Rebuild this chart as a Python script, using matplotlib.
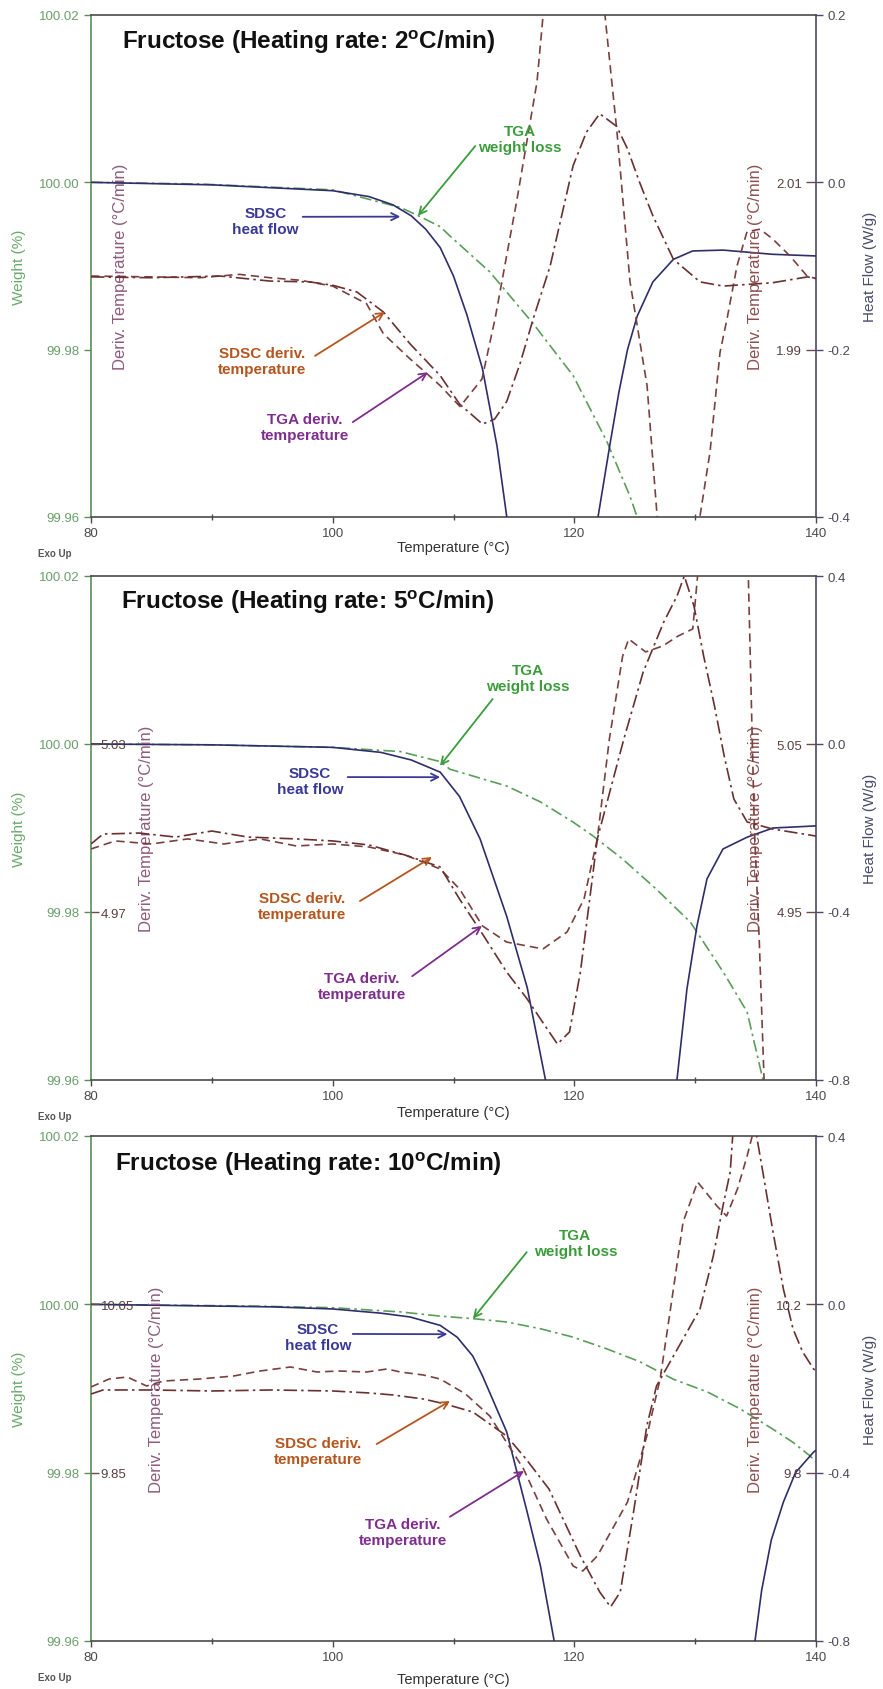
import matplotlib
matplotlib.use('Agg')
import matplotlib.pyplot as plt

plt.rcParams['font.family'] = ['Liberation Sans', 'DejaVu Sans']
plt.rcParams['mathtext.fontset'] = 'custom'
plt.rcParams['mathtext.rm'] = 'Liberation Sans'
plt.rcParams['mathtext.bf'] = 'Liberation Sans:bold'
plt.rcParams['axes.unicode_minus'] = False

# ---------------- data ----------------
rates = [2, 5, 10]

# panel 1 : 2 C/min
p1_wt_T = [80, 89, 100, 105.6, 107.1, 108.9, 109.7, 113.0, 116.6, 119.9, 122.7, 124.6, 125.2, 126.0]
p1_wt = [100.0000, 99.9998, 99.9991, 99.9970, 99.9960, 99.9947, 99.9936, 99.9893, 99.9831,
         99.9769, 99.9690, 99.9625, 99.9600, 99.9574]
p1_hf_T = [80, 90, 100, 103, 105, 106.5, 107.7, 108.9, 110, 111.1, 112.4, 113.6, 114.4, 116, 118, 120,
           121.96, 122.95, 123.7, 124.4, 125.2, 126.5, 128.2, 129.8, 132.3, 136.4, 140]
p1_hf = [0.0, -0.003, -0.010, -0.017, -0.027, -0.040, -0.056, -0.078, -0.112, -0.158, -0.223, -0.315,
         -0.399, -0.6, -0.9, -0.7, -0.400, -0.313, -0.250, -0.200, -0.160, -0.119, -0.092, -0.082,
         -0.081, -0.086, -0.088]
p1_tga_T = [80, 84.9, 89.0, 92.3, 94.8, 97.3, 100.0, 102.0, 102.8, 104.2, 106.4, 107.9, 108.9, 110.54,
            112.36, 113.44, 115.26, 116.91, 117.41, 118.5, 120.0, 121.5, 122.54, 123.53, 124.61,
            126.02, 126.85, 128.6, 130.40, 131.23, 132.06, 132.64, 133.46, 134.29, 135.37, 136.44,
            137.85, 139.26, 140]
p1_tga = [1.9988, 1.9987, 1.9986, 1.9990, 1.9986, 1.9983, 1.9976, 1.9961, 1.9955, 1.9919, 1.9889,
          1.9870, 1.9857, 1.9832, 1.9865, 1.9937, 2.0080, 2.0220, 2.0299, 2.0391, 2.0439, 2.0391,
          2.0299, 2.0160, 1.9981, 1.9857, 1.9701, 1.9626, 1.9701, 1.9778, 1.9897, 1.9937, 2.0000,
          2.0041, 2.0044, 2.0032, 2.0012, 1.9988, 1.9985]
p1_sdsc_T = [80, 84.9, 90.7, 94.8, 98.1, 100.0, 102.0, 104.2, 106.4, 108.9, 110.5, 112.4, 113.4,
             114.4, 115.5, 116.6, 118.0, 119.9, 121.0, 122.1, 123.5, 124.4, 125.4, 126.5, 128.2,
             130.4, 132.3, 136.4, 139.3, 140]
p1_sdsc = [1.9987, 1.9986, 1.9988, 1.9982, 1.9981, 1.9977, 1.9969, 1.9945, 1.9907, 1.9869, 1.9835,
           1.9811, 1.9817, 1.9838, 1.9883, 1.9937, 2.0000, 2.0120, 2.0160, 2.0182, 2.0167, 2.0140,
           2.0100, 2.0060, 2.0008, 1.9981, 1.9976, 1.9980, 1.9987, 1.9985]

# panel 2 : 5 C/min
p2_wt_T = [80, 90, 100, 105.6, 108.9, 109.7, 114.4, 117.2, 119.9, 121.5, 124.0, 126.8, 129.6, 132.3,
           134.3, 135.6, 136.2]
p2_wt = [100.0000, 99.9999, 99.9996, 99.9991, 99.9979, 99.9970, 99.9950, 99.9931, 99.9907, 99.9891,
         99.9863, 99.9827, 99.9788, 99.9729, 99.9681, 99.9601, 99.9577]
p2_hf_T = [80, 90, 100, 104, 106.5, 108.9, 110.5, 112.2, 114.4, 116.1, 117.6, 120, 125, 128.50,
           129.32, 130.15, 130.98, 132.30, 134.29, 136.44, 140]
p2_hf = [0.0, -0.002, -0.008, -0.020, -0.038, -0.067, -0.125, -0.226, -0.410, -0.580, -0.798, -1.2,
         -1.2, -0.798, -0.583, -0.433, -0.321, -0.250, -0.222, -0.200, -0.195]
p2_tga_T = [80, 82, 85, 88, 91, 94, 97, 100, 103, 106, 108.9, 110.5, 112.4, 114.4, 117.4, 119.4, 120.8,
            121.9, 122.9, 124.0, 124.5, 125.9, 127.3, 128.6, 129.8, 130.2, 131.0, 134.0, 134.4,
            134.9, 135.3, 135.7, 136.0]
p2_tga = [4.9875, 4.9923, 4.9905, 4.9935, 4.9905, 4.9935, 4.9893, 4.9905, 4.9887, 4.9839, 4.9756,
          4.9637, 4.9417, 4.9321, 4.9280, 4.9381, 4.9577, 4.9935, 5.0530, 5.1024, 5.1125, 5.1048,
          5.1083, 5.1143, 5.1185, 5.1500, 5.1839, 5.1839, 5.1500, 4.9994, 4.9339, 4.8506, 4.8089]
p2_sdsc_T = [80, 81, 84, 87, 90, 93, 97, 100, 103, 106, 108.9, 110.5, 112.4, 114.4, 116.1, 117.2, 118.6,
             119.6, 120.5, 121.2, 121.9, 124.1, 125.7, 127.4, 128.5, 129.1, 129.9, 130.7, 131.6,
             132.4, 133.2, 134.3, 136.4, 140]
p2_sdsc = [4.9905, 4.9964, 4.9970, 4.9946, 4.9982, 4.9946, 4.9935, 4.9923, 4.9899, 4.9839, 4.9768,
           4.9577, 4.9369, 4.9143, 4.8982, 4.8863, 4.8714, 4.8786, 4.9143, 4.9536, 4.9935, 5.0530,
           5.0929, 5.1226, 5.1381, 5.1500, 5.1321, 5.1024, 5.0726, 5.0429, 5.0173, 5.0036, 4.9994,
           4.9952]

# panel 3 : 10 C/min
p3_wt_T = [80, 93.2, 100, 105.6, 108.9, 111.6, 114.4, 117.2, 119.9, 122.7, 125.4, 128.2, 131.0, 133.7,
           136.4, 138.1, 139.5, 140]
p3_wt = [100.0000, 99.9998, 99.9996, 99.9991, 99.9986, 99.9983, 99.9979, 99.9971, 99.9961, 99.9947,
         99.9932, 99.9911, 99.9896, 99.9876, 99.9852, 99.9836, 99.9820, 99.9813]
p3_hf_T = [80, 95, 100, 104, 106.4, 108.9, 110.3, 111.6, 112.4, 114.4, 116.1, 117.2, 118.3, 120, 130,
           134.95, 135.5, 136.3, 137.3, 138.3, 139.8, 140]
p3_hf = [0.0, -0.006, -0.011, -0.021, -0.030, -0.050, -0.078, -0.123, -0.170, -0.303, -0.494, -0.622,
         -0.795, -1.2, -1.2, -0.80, -0.68, -0.56, -0.47, -0.40, -0.351, -0.347]
p3_tga_T = [80, 81.5, 83, 84.6, 86, 89, 91.8, 94, 96.5, 98.7, 100.5, 102.8, 104.5, 105.6, 107.5, 108.9,
            111, 113, 115.8, 117.7, 119.9, 120.7, 121.9, 124.4, 126.0, 127.1, 128.2, 129.0, 130.2,
            131.8, 132.6, 133.5, 134.3, 134.7, 135.5, 140]
p3_tga = [10.0036, 10.0226, 10.0273, 10.0060, 10.0178, 10.0226, 10.0297, 10.0416, 10.0511, 10.0392,
          10.0416, 10.0392, 10.0464, 10.0392, 10.0321, 10.0226, 9.9869, 9.9347, 9.8087, 9.6899,
          9.5782, 9.5664, 9.6020, 9.7303, 9.8871, 10.0226, 10.2364, 10.3957, 10.4907, 10.4337,
          10.4099, 10.4741, 10.5525, 10.5976, 10.7354, 10.8067]
p3_sdsc_T = [80, 81, 85, 90, 95, 100, 103, 105, 107.5, 109.3, 111.6, 114.4, 116, 117.9, 120.5, 122.1,
             123.0, 123.8, 124.9, 126.0, 126.8, 128.2, 130.4, 131.5, 132.3, 132.9, 133.1, 134.1,
             135.1, 135.6, 136.4, 137.3, 138.1, 138.9, 139.8, 140]
p3_sdsc = [9.9869, 9.9965, 9.9965, 9.9941, 9.9965, 9.9941, 9.9894, 9.9846, 9.9751, 9.9632, 9.9442,
           9.8871, 9.8325, 9.7612, 9.6020, 9.5165, 9.4808, 9.5165, 9.7066, 9.9109, 10.0060, 10.0772,
           10.1889, 10.3149, 10.4337, 10.5145, 10.5976, 10.7830, 10.5976, 10.5145, 10.3790, 10.2364,
           10.1414, 10.0867, 10.0464, 10.0416]

# axis ranges and ticks
wt_ticks = [99.96, 99.98, 100.00, 100.02]
hf_lims = [(-0.4, 0.2), (-0.8, 0.4), (-0.8, 0.4)]
hf_ticks = [[-0.4, -0.2, 0.0, 0.2], [-0.8, -0.4, 0.0, 0.4], [-0.8, -0.4, 0.0, 0.4]]
dl_lims = [(1.94, 2.06), (4.91, 5.09), (9.65, 10.25)]
dl_ticks = [[], [4.97, 5.03], [9.85, 10.05]]
dl_labels = [[], ['4.97', '5.03'], ['9.85', '10.05']]
dr_lims = [(1.97, 2.03), (4.85, 5.15), (9.4, 10.6)]
dr_ticks = [[1.99, 2.01], [4.95, 5.05], [9.8, 10.2]]
dr_labels = [['1.99', '2.01'], ['4.95', '5.05'], ['9.8', '10.2']]

# arrow tips on the curves (T, value on that curve's axis)
tips_wt = [(107.06, 99.9960), (108.88, 99.9974), (111.61, 99.9983)]
tips_hf = [(105.6, -0.041), (108.9, -0.079), (109.5, -0.071)]
tips_sdsc = [(104.33, 1.9945), (108.22, 4.9827), (109.71, 9.9703)]
tips_tga = [(107.89, 1.9873), (112.36, 4.9417), (115.84, 9.8040)]

# ---------------- style ----------------
C_WT = '#5a9e5a'
C_HF = '#2e2e6a'
C_TGA = '#7a4040'
C_SDSC = '#6a3030'
C_WT_TXT = '#3c9c3c'
C_HF_TXT = '#3a3a96'
C_SDSC_TXT = '#b4561e'
C_TGA_TXT = '#7e2e8c'
C_AX = '#4a4a4a'

W, H = 883, 1690
fig = plt.figure(figsize=(W / 100, H / 100), dpi=100, facecolor='white')

# panel frames in pixels: (top, bottom)
frames = [(16, 518), (577, 1081), (1137, 1642)]
x0, x1 = 91, 816

# text layout in axes fraction for each panel
lay = [
    dict(wt_txt=(0.592, 0.753), wt_start=(0.530, 0.739), hf_txt=(0.241, 0.590), hf_start=(0.292, 0.598),
         sd_txt=(0.236, 0.311), sd_start=(0.309, 0.321), tg_txt=(0.295, 0.179), tg_start=(0.361, 0.189),
         title=(0.043, 0.948), dl_x=0.040, xl_y=-0.060),
    dict(wt_txt=(0.603, 0.798), wt_start=(0.554, 0.756), hf_txt=(0.302, 0.593), hf_start=(0.354, 0.601),
         sd_txt=(0.291, 0.345), sd_start=(0.371, 0.355), tg_txt=(0.374, 0.187), tg_start=(0.443, 0.206),
         title=(0.041, 0.950), dl_x=0.077, xl_y=-0.063),
    dict(wt_txt=(0.668, 0.788), wt_start=(0.601, 0.770), hf_txt=(0.313, 0.602), hf_start=(0.361, 0.608),
         sd_txt=(0.313, 0.376), sd_start=(0.394, 0.390), tg_txt=(0.430, 0.216), tg_start=(0.495, 0.246),
         title=(0.033, 0.947), dl_x=0.091, xl_y=-0.075),
]

panels = [
    (p1_wt_T, p1_wt, p1_hf_T, p1_hf, p1_tga_T, p1_tga, p1_sdsc_T, p1_sdsc),
    (p2_wt_T, p2_wt, p2_hf_T, p2_hf, p2_tga_T, p2_tga, p2_sdsc_T, p2_sdsc),
    (p3_wt_T, p3_wt, p3_hf_T, p3_hf, p3_tga_T, p3_tga, p3_sdsc_T, p3_sdsc),
]


def arrow(ax, tip, tip_ax, start, color):
    ax.annotate('', xy=tip, xycoords=tip_ax.transData, xytext=start, textcoords=ax.transAxes,
                arrowprops=dict(arrowstyle='->', color=color, lw=1.3, shrinkA=0, shrinkB=0,
                                mutation_scale=13), annotation_clip=False)


def label(ax, pos, text, color):
    ax.text(pos[0], pos[1], text, transform=ax.transAxes, ha='center', va='center', fontsize=11,
            fontweight='bold', color=color, linespacing=1.15)


for i, (wT, wv, hT, hv, tT, tv, sT, sv) in enumerate(panels):
    top, bot = frames[i]
    rect = [x0 / W, 1 - bot / H, (x1 - x0) / W, (bot - top) / H]
    L = lay[i]

    ax = fig.add_axes(rect)
    ax_hf = ax.twinx()
    ax_dl = ax.twinx()
    ax_dr = ax.twinx()

    # curves
    ax.plot(wT, wv, color=C_WT, lw=1.2, ls=(0, (7, 2.5, 1.5, 2.5)))
    ax_hf.plot(hT, hv, color=C_HF, lw=1.2)
    ax_dr.plot(tT, tv, color=C_TGA, lw=1.2, ls=(0, (5, 3)))
    ax_dr.plot(sT, sv, color=C_SDSC, lw=1.2, ls=(0, (8, 2.5, 1.5, 2.5)))

    # x axis
    ax.set_xlim(80, 140)
    ax.set_xticks([80, 100, 120, 140])
    ax.set_xticks([90, 110, 130], minor=True)
    ax.tick_params(axis='x', which='major', direction='out', length=4, width=1, colors=C_AX,
                   labelsize=9.5, pad=3)
    ax.tick_params(axis='x', which='minor', direction='inout', length=4, width=1, colors=C_AX)
    ax.set_xlabel('Temperature (°C)', fontsize=10.5, color='#333333')
    ax.xaxis.label.set_va('center')
    ax.xaxis.set_label_coords(0.5, L['xl_y'])

    # weight axis (left)
    ax.set_ylim(99.96, 100.02)
    ax.set_yticks(wt_ticks, ['99.96', '99.98', '100.00', '100.02'])
    ax.tick_params(axis='y', direction='out', length=5, width=1, colors='#5a8f5a', labelsize=9.5,
                   pad=3, labelcolor='#6a9e6a')
    ax.set_ylabel('Weight (%)', fontsize=11, color='#6aaa6a')
    ax.yaxis.label.set_va('center')
    ax.yaxis.set_label_coords(-0.099, 0.5)

    # heat flow axis (right)
    ax_hf.set_ylim(*hf_lims[i])
    ax_hf.set_yticks(hf_ticks[i], ['%.1f' % v for v in hf_ticks[i]])
    ax_hf.tick_params(axis='y', direction='out', length=5, width=1, colors='#4a4a6e', labelsize=9.5,
                      pad=3, labelcolor='#4a4a5a')
    ax_hf.set_ylabel('Heat Flow (W/g)', fontsize=11, color='#4a4a6a')
    ax_hf.yaxis.label.set_va('center')
    ax_hf.yaxis.set_label_coords(1.0745, 0.5)

    # inner deriv. temperature axes
    ax_dl.set_ylim(*dl_lims[i])
    ax_dl.yaxis.tick_left()
    ax_dl.set_yticks(dl_ticks[i], dl_labels[i])
    ax_dl.tick_params(axis='y', direction='in', length=6, width=1, colors='#6a4a4a', labelsize=9.5,
                      pad=-7, labelcolor='#5a4040')
    for t in ax_dl.get_yticklabels():
        t.set_horizontalalignment('left')
    ax_dl.yaxis.set_label_position('left')
    ax_dl.set_ylabel('Deriv. Temperature (°C/min)', fontsize=12, color='#8c5c7c')
    ax_dl.yaxis.label.set_va('center')
    ax_dl.yaxis.set_label_coords(L['dl_x'], 0.5)

    ax_dr.set_ylim(*dr_lims[i])
    ax_dr.set_yticks(dr_ticks[i], dr_labels[i])
    ax_dr.tick_params(axis='y', direction='in', length=7, width=1, colors='#6a4a4a', labelsize=9.5,
                      pad=-10, labelcolor='#5a4040')
    for t in ax_dr.get_yticklabels():
        t.set_horizontalalignment('right')
    ax_dr.set_ylabel('Deriv. Temperature (°C/min)', fontsize=12, color='#8c5050')
    ax_dr.yaxis.label.set_va('center')
    ax_dr.yaxis.set_label_coords(0.916, 0.5)

    # spines
    for a in (ax_hf, ax_dl, ax_dr):
        for s in a.spines.values():
            s.set_visible(False)
    ax.spines['left'].set_color('#5a8f5a')
    ax.spines['right'].set_color('#4a4a6e')
    ax.spines['top'].set_color(C_AX)
    ax.spines['bottom'].set_color(C_AX)
    for s in ax.spines.values():
        s.set_linewidth(1.2)

    # title and annotations
    ax.text(L['title'][0], L['title'][1], 'Fructose (Heating rate: %d$^{\\mathbf{o}}$C/min)' % rates[i],
            transform=ax.transAxes, ha='left', va='center', fontsize=17.5, fontweight='bold', color='#111111')

    label(ax_dr, L['wt_txt'], 'TGA\nweight loss', C_WT_TXT)
    arrow(ax_dr, tips_wt[i], ax, L['wt_start'], C_WT_TXT)
    label(ax_dr, L['hf_txt'], 'SDSC\nheat flow', C_HF_TXT)
    arrow(ax_dr, tips_hf[i], ax_hf, L['hf_start'], C_HF_TXT)
    label(ax_dr, L['sd_txt'], 'SDSC deriv.\ntemperature', C_SDSC_TXT)
    arrow(ax_dr, tips_sdsc[i], ax_dr, L['sd_start'], C_SDSC_TXT)
    label(ax_dr, L['tg_txt'], 'TGA deriv.\ntemperature', C_TGA_TXT)
    arrow(ax_dr, tips_tga[i], ax_dr, L['tg_start'], C_TGA_TXT)

    ax.text(-0.073, -0.072, 'Exo Up', transform=ax.transAxes, ha='left', va='center', fontsize=7,
            fontweight='bold', color='#555555')

fig.savefig('out.png', dpi=100, facecolor='white')
